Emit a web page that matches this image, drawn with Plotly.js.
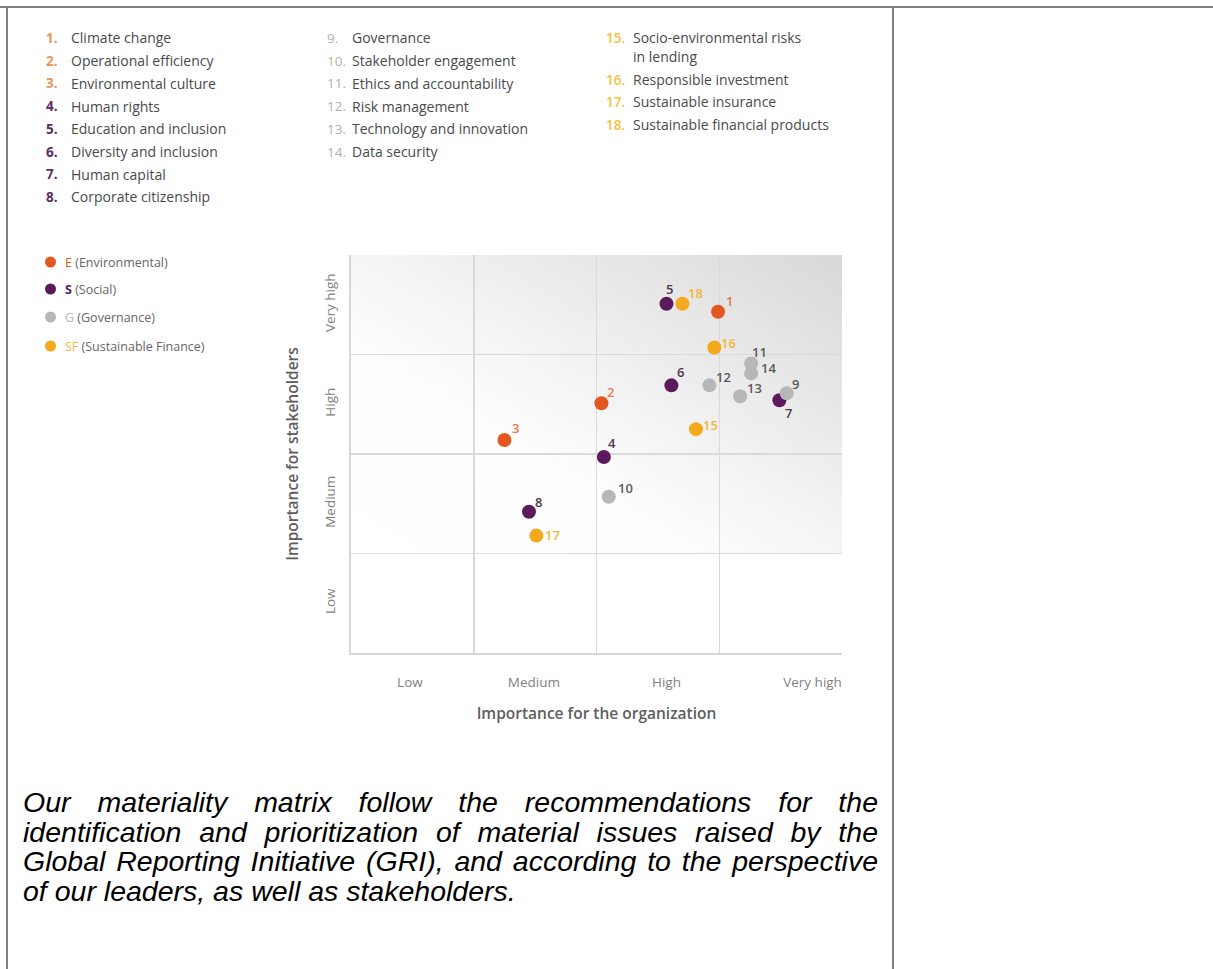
<!DOCTYPE html>
<html>
<head>
<meta charset="utf-8">
<script src="https://cdn.plot.ly/plotly-3.0.1.min.js"></script>
<style>
html,body{margin:0;padding:0;background:#fff;width:1213px;height:969px;overflow:hidden;}
#chart{position:absolute;left:0;top:0;width:1213px;height:969px;}
.ln{position:absolute;background:#7f7f7f;}
#caption{position:absolute;left:23px;top:788px;width:855px;font-family:"Liberation Sans",Arial,sans-serif;font-style:italic;font-size:28.5px;color:#000;}
#caption div{line-height:29.5px;white-space:nowrap;text-align:justify;text-align-last:justify;}
#caption div.last{text-align:left;text-align-last:left;}
</style>
</head>
<body>
<div id="chart"></div>
<div class="ln" style="left:0;top:6px;width:1213px;height:2px;"></div>
<div class="ln" style="left:6px;top:6px;width:2px;height:963px;"></div>
<div class="ln" style="left:892px;top:6px;width:2px;height:963px;"></div>
<div id="caption">
<div>Our materiality matrix follow the recommendations for the</div>
<div>identification and prioritization of material issues raised by the</div>
<div>Global Reporting Initiative (GRI), and according to the perspective</div>
<div class="last">of our leaders, as well as stakeholders.</div>
</div>
<script>
// ---------------- data ----------------
const issueIds = [1,2,3,4,5,6,7,8,9,10,11,12,13,14,15,16,17,18];
const issueNames = [
  'Climate change','Operational efficiency','Environmental culture','Human rights',
  'Education and inclusion','Diversity and inclusion','Human capital','Corporate citizenship',
  'Governance','Stakeholder engagement','Ethics and accountability','Risk management',
  'Technology and innovation','Data security','Socio-environmental risks<br>in lending',
  'Responsible investment','Sustainable insurance','Sustainable financial products'
];
const issueGroup = ['E','E','E','S','S','S','S','S','G','G','G','G','G','G','SF','SF','SF','SF'];
const orgImportance =         [2.99,2.04,1.25,2.06,2.57,2.61,3.49,1.45,3.55,2.10,3.26,2.92,3.17,3.26,2.81,2.96,1.51,2.70];
const stakeholderImportance = [3.43,2.51,2.14,1.97,3.51,2.69,2.54,1.42,2.61,1.57,2.91,2.69,2.58,2.81,2.25,3.07,1.18,3.51];
const levelLabels = ['Low','Medium','High','Very high'];
const groupKeys = ['E','S','G','SF'];
const groupNames = ['Environmental','Social','Governance','Sustainable Finance'];
const xTitle = 'Importance for the organization';
const yTitle = 'Importance for stakeholders';

// ---------------- styles ----------------
const FONT = '"Open Sans", "DejaVu Sans", sans-serif';
const groupColor = {E:'#e2571f', S:'#5b1a5b', G:'#b7b7b7', SF:'#f2a91c'};
const groupLabelColor = {E:'#e27a4c', S:'#4e3a4e', G:'#5a5a5a', SF:'#f2b53c'};
const groupNumColor = {E:'#e8955a', S:'#5c2c5c', G:'#b0b0b0', SF:'#f3c13e'};
const groupNumWeight = {E:700, S:700, G:400, SF:600};
const groupKeyColor = {E:'#e2571f', S:'#5b1a5b', G:'#b7b7b7', SF:'#f2b53c'};
// label offsets from marker centre, px (dx right, dy down)
const labelDx = [11, 9,11, 8, 3, 9, 9,10, 9,17, 8,14,14,17,15,14,16,13];
const labelDy = [-11,-11,-12,-14,-15,-13,13,-10,-9,-9,-11,-8,-8,-5,-4,-5,-1,-11];
const xTickPos = [0.48,1.49,2.57,3.76];
const yTickPos = [0.5,1.5,2.5,3.5];

// plot area in px
const PL=351, PR=842, PT=255, PB=653;
const xp = x => (x-PL)/(PR-PL);
const yp = y => (PB-y)/(PB-PT);

// ---------------- traces ----------------
const traces = groupKeys.map(g => {
  const idx = issueIds.map((_,i)=>i).filter(i => issueGroup[i]===g);
  return {
    type:'scatter', mode:'markers', name:g, showlegend:false,
    x: idx.map(i=>orgImportance[i]),
    y: idx.map(i=>stakeholderImportance[i]),
    marker:{size:14, color:groupColor[g], line:{width:0}},
    hovertext: idx.map(i=>issueNames[i].replace('<br>',' ')),
    hoverinfo:'text'
  };
});

const annotations = [];
// point number labels
issueIds.forEach((id,i)=>{
  annotations.push({xref:'x',yref:'y',x:orgImportance[i],y:stakeholderImportance[i],
    xshift:labelDx[i], yshift:-labelDy[i], xanchor:'center', yanchor:'middle', showarrow:false,
    text:String(id), font:{family:FONT,size:13,weight:600,color:groupLabelColor[issueGroup[i]]}});
});

// ---------------- numbered list ----------------
const rowStep = 22.7;
function addItem(numX, txtX, y, i){
  const g = issueGroup[i];
  annotations.push({xref:'paper',yref:'paper',x:xp(numX),y:yp(y),xanchor:'left',yanchor:'middle',showarrow:false,
    text:issueIds[i]+'.', font:{family:FONT,size:13.5,weight:groupNumWeight[g],color:groupNumColor[g]}});
  const lines = issueNames[i].split('<br>');
  lines.forEach((ln,k)=>{
    annotations.push({xref:'paper',yref:'paper',x:xp(txtX),y:yp(y+k*19),xanchor:'left',yanchor:'middle',showarrow:false,
      text:ln, font:{family:FONT,size:14,color:'#4a4a4a'}});
  });
  return lines.length;
}
for(let i=0;i<8;i++) addItem(44,69,38+i*rowStep,i);
for(let i=8;i<14;i++) addItem(325,350,38+(i-8)*rowStep,i);
let y3 = 38;
for(let i=14;i<18;i++){ const n = addItem(604,631,y3,i); y3 += 22.5 + (n-1)*19; }

// ---------------- ESG key ----------------
const shapes = [];
const keyY = [262,289,317,346];
groupKeys.forEach((g,k)=>{
  const y = keyY[k];
  shapes.push({type:'circle',xref:'paper',yref:'paper',x0:xp(45),x1:xp(56),y0:yp(y+5.5),y1:yp(y-5.5),
    fillcolor:groupColor[g],line:{width:0}});
  const key = g==='S' ? '<b>'+g+'</b>' : g;
  annotations.push({xref:'paper',yref:'paper',x:xp(63),y:yp(y),xanchor:'left',yanchor:'middle',showarrow:false,
    text:'<span style="color:'+groupKeyColor[g]+'">'+key+'</span> ('+groupNames[k]+')',
    font:{family:FONT,size:12.5,color:'#666666'}});
});

// ---------------- background gradient ----------------
const svg = '<svg xmlns="http://www.w3.org/2000/svg" width="400" height="300" viewBox="0 0 400 300" preserveAspectRatio="none">'+
  '<defs><linearGradient id="g" x1="0" y1="1" x2="1" y2="0">'+
  '<stop offset="0" stop-color="#ffffff"/><stop offset="0.36" stop-color="#fdfdfd"/>'+
  '<stop offset="0.7" stop-color="#eaeaea"/><stop offset="1" stop-color="#d8d8d8"/></linearGradient></defs>'+
  '<rect x="0" y="0" width="400" height="300" fill="url(#g)"/></svg>';
const bgImg = 'data:image/svg+xml;charset=utf-8,' + encodeURIComponent(svg);

const layout = {
  width:1213, height:969,
  margin:{l:PL, r:1213-PR, t:PT, b:969-PB, pad:0},
  paper_bgcolor:'rgba(0,0,0,0)', plot_bgcolor:'#ffffff',
  font:{family:FONT, color:'#666'},
  showlegend:false,
  xaxis:{range:[0,4], fixedrange:true, tickmode:'array', tickvals:xTickPos, ticktext:levelLabels,
    showgrid:false, zeroline:false, ticks:'', ticklabelstandoff:16,
    tickfont:{family:FONT,size:13.5,color:'#7f7f7f'},
    showline:true, linecolor:'#d6d6d6', linewidth:2,
    minor:{tickmode:'array', tickvals:[1,2,3], showgrid:true, gridcolor:'#dadada', gridwidth:1.5, ticks:''},
    title:{text:xTitle, standoff:18, font:{family:FONT,size:15.5,color:'#5e5e5e',weight:600}}},
  yaxis:{range:[0,4], fixedrange:true, tickmode:'array', tickvals:yTickPos, ticktext:levelLabels,
    showgrid:false, zeroline:false, ticks:'', tickangle:-90, ticklabelstandoff:9,
    tickfont:{family:FONT,size:13.5,color:'#7f7f7f'},
    showline:true, linecolor:'#d6d6d6', linewidth:2,
    minor:{tickmode:'array', tickvals:[1,2,3], showgrid:true, gridcolor:'#dadada', gridwidth:1.5, ticks:''},
    title:{text:yTitle, standoff:18, font:{family:FONT,size:15.5,color:'#5e5e5e',weight:600}}},
  images:[{source:bgImg, xref:'x', yref:'y', x:0, y:4, sizex:4, sizey:3, sizing:'stretch', layer:'below', xanchor:'left', yanchor:'top'}],
  shapes:shapes,
  annotations:annotations
};

Plotly.newPlot('chart', traces, layout, {displayModeBar:false, staticPlot:true});
</script>
</body>
</html>
